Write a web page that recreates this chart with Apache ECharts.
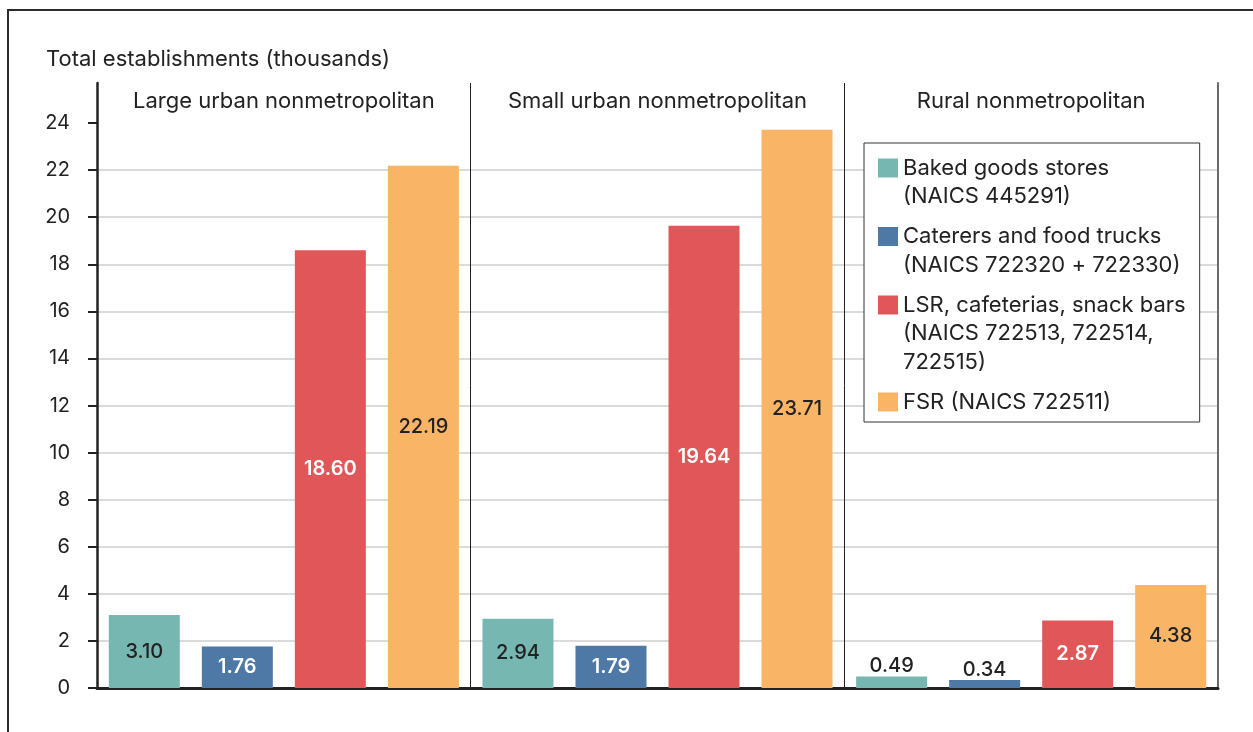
<!DOCTYPE html>
<html>
<head>
<meta charset="utf-8">
<script src="https://cdn.jsdelivr.net/npm/echarts@6/dist/echarts.min.js"></script>
<style>
  html, body { margin: 0; padding: 0; background: #fff; overflow: hidden; }
  #frame { position: absolute; left: 7px; top: 9px; width: 1400px; height: 900px; border: 2px solid #2b2b2b; box-sizing: border-box; }
  #chart { position: absolute; left: 0; top: 0; width: 1253px; height: 732px; }
</style>
</head>
<body>
<div id="frame"></div>
<div id="chart"></div>
<script>
// ---- data ----
const categories = ['Large urban nonmetropolitan', 'Small urban nonmetropolitan', 'Rural nonmetropolitan'];
const seriesNames = [
  'Baked goods stores\n(NAICS 445291)',
  'Caterers and food trucks\n(NAICS 722320 + 722330)',
  'LSR, cafeterias, snack bars\n(NAICS 722513, 722514,\n722515)',
  'FSR (NAICS 722511)'
];
const bakedGoods = [3.10, 2.94, 0.49];
const caterers   = [1.76, 1.79, 0.34];
const lsr        = [18.60, 19.64, 2.87];
const fsr        = [22.19, 23.71, 4.38];
const yTicks = [0, 2, 4, 6, 8, 10, 12, 14, 16, 18, 20, 22, 24];
const axisTitle = 'Total establishments (thousands)';

// ---- styles ----
const colors = ['#76B7B2', '#4E79A7', '#E15759', '#F9B466'];
const labelColors = ['#222222', '#ffffff', '#ffffff', '#222222'];
const labelWeights = [500, 600, 600, 500];
const FONT = 'Inter, "Noto Sans", sans-serif';
const values = [bakedGoods, caterers, lsr, fsr];

const series = values.map((vals, i) => ({
  name: seriesNames[i],
  type: 'bar',
  barWidth: 71,
  barGap: '31%',
  itemStyle: { color: colors[i] },
  xAxisIndex: 0,
  yAxisIndex: 0,
  data: vals.map(v => {
    const small = v < 1;
    return {
      value: v,
      label: {
        position: small ? 'top' : 'inside',
        color: small ? '#222222' : labelColors[i],
        fontWeight: small ? 500 : labelWeights[i],
        distance: 0
      }
    };
  }),
  label: {
    show: true,
    fontFamily: FONT,
    fontSize: 20,
    formatter: p => p.value.toFixed(2)
  }
}));

const rich = {
  t: { fontFamily: FONT, fontSize: 22, color: '#222222', lineHeight: 28.5, padding: [0, 0, 0, 5] },
  sp: { width: 20, height: 19, lineHeight: 28.5 }
};
colors.forEach((c, i) => {
  rich['sq' + i] = { width: 20, height: 19, lineHeight: 28.5, backgroundColor: c };
});

const chart = echarts.init(document.getElementById('chart'), null, { renderer: 'canvas' });
chart.setOption({
  animation: false,
  backgroundColor: 'transparent',
  textStyle: { fontFamily: FONT },
  title: {
    text: axisTitle,
    left: 46,
    top: 46,
    padding: 0,
    textStyle: { fontFamily: FONT, fontSize: 22, fontWeight: 'normal', color: '#222222', lineHeight: 26 }
  },
  grid: { left: 97, right: 35, top: 83, bottom: 44, containLabel: false },
  legend: {
    orient: 'vertical',
    left: 864,
    top: 143,
    padding: [14, 14, 9, 9],
    itemGap: 18,
    itemWidth: 0,
    itemHeight: 0,
    selectedMode: false,
    backgroundColor: '#ffffff',
    borderColor: '#333333',
    borderWidth: 1,
    data: seriesNames,
    formatter: name => {
      const idx = seriesNames.indexOf(name);
      return name.split('\n').map((line, k) =>
        (k === 0 ? '{sq' + idx + '|}' : '{sp|}') + '{t|' + line + '}'
      ).join('\n');
    },
    textStyle: { rich: rich }
  },
  xAxis: [
    {
      type: 'category',
      data: categories,
      position: 'bottom',
      axisLine: { show: true, lineStyle: { color: '#222222', width: 3 } },
      axisTick: { show: false },
      axisLabel: { show: false },
      splitLine: { show: true, interval: 0, lineStyle: { color: ['#222222', '#222222', '#222222', 'rgba(0,0,0,0)'], width: 1 } }
    },
    {
      type: 'category',
      data: categories,
      position: 'top',
      axisLine: { show: false },
      axisTick: { show: false },
      splitLine: { show: false },
      axisLabel: { show: true, inside: true, margin: 7, interval: 0, fontFamily: FONT, fontSize: 22, color: '#222222' }
    }
  ],
  yAxis: [
    {
      type: 'value',
      min: 0,
      max: 25.7,
      interval: 2,
      axisLine: { show: true, lineStyle: { color: '#222222', width: 2.5 } },
      axisTick: { show: true, inside: false, length: 9, lineStyle: { color: '#222222', width: 2 }, customValues: yTicks },
      axisLabel: { show: true, margin: 27, fontFamily: FONT, fontSize: 20, color: '#222222', customValues: yTicks },
      splitLine: { show: true, showMaxLine: false, showMinLine: false, lineStyle: { color: '#cfcfcf', width: 1.5 } }
    },
    {
      type: 'value',
      min: 0,
      max: 25.7,
      position: 'right',
      axisLine: { show: true, lineStyle: { color: '#6b6b6b', width: 2 } },
      axisTick: { show: false },
      axisLabel: { show: false },
      splitLine: { show: false }
    }
  ],
  series: series
});
</script>
</body>
</html>
